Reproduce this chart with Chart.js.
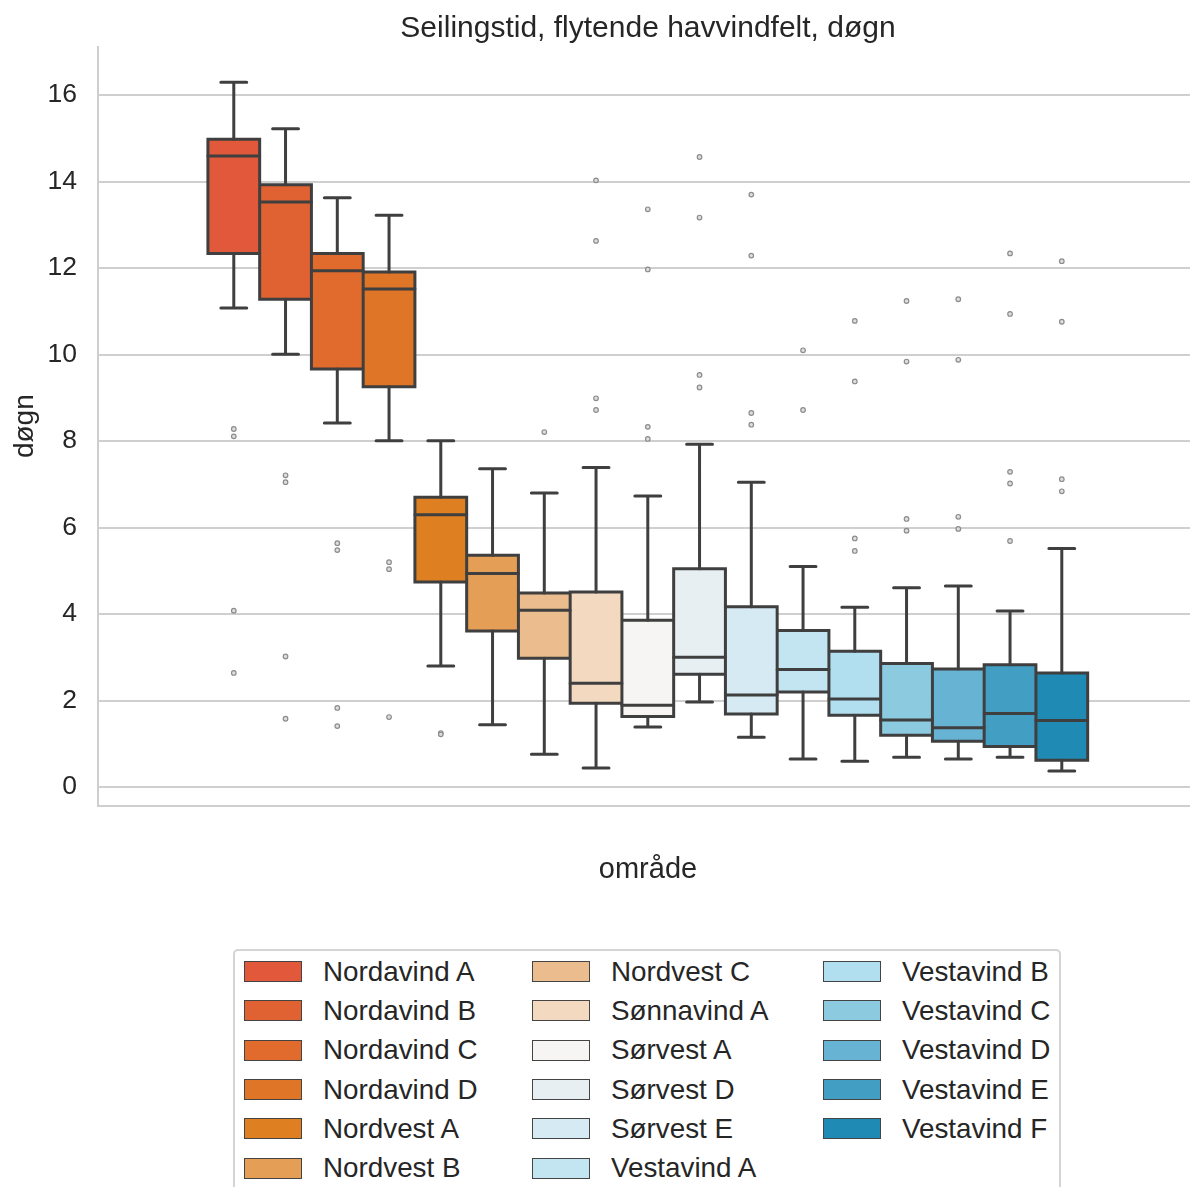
<!DOCTYPE html>
<html>
<head>
<meta charset="utf-8">
<script src="https://cdn.jsdelivr.net/npm/chart.js@4"></script>
<style>
  html, body { margin:0; padding:0; background:#fff; overflow:hidden; }
  body { width:1190px; height:1187px; position:relative; font-family:"Liberation Sans", Arial, sans-serif; }
  #wrap { position:absolute; left:0; top:0; width:1198px; height:910px; }
  #legend {
    position:absolute; left:233px; top:949px; width:828px; height:260px;
    border:2px solid #d4d4d4; border-radius:5px; box-sizing:border-box;
    display:grid; grid-auto-flow:column;
    grid-template-rows:repeat(6, 39.3px);
    grid-template-columns:288px 291px auto;
    padding:1px 0 0 9px;
  }
  .item { display:flex; align-items:center; }
  .patch { width:56px; height:19px; border:1px solid #444; margin-right:21px; flex:none; }
  .lbl { font-size:27.8px; color:#262626; white-space:nowrap; }
</style>
</head>
<body>
<div id="wrap"><canvas id="c"></canvas></div>
<div id="legend"></div>
<script>
// boxplot stats per område (døgn)
const categories = ['Nordavind A','Nordavind B','Nordavind C','Nordavind D','Nordvest A','Nordvest B','Nordvest C',
  'Sønnavind A','Sørvest A','Sørvest D','Sørvest E','Vestavind A','Vestavind B','Vestavind C','Vestavind D','Vestavind E','Vestavind F'];
const whiskerLow  = [11.08, 10.01, 8.42, 8.01, 2.80, 1.44, 0.76, 0.44, 1.39, 1.97, 1.15, 0.65, 0.60, 0.69, 0.65, 0.69, 0.37];
const q1          = [12.34, 11.28, 9.67, 9.26, 4.74, 3.61, 2.98, 1.94, 1.63, 2.61, 1.69, 2.20, 1.66, 1.20, 1.06, 0.94, 0.62];
const median      = [14.59, 13.53, 11.94, 11.52, 6.30, 4.94, 4.09, 2.40, 1.89, 3.00, 2.13, 2.72, 2.04, 1.55, 1.37, 1.70, 1.54];
const q3          = [14.98, 13.93, 12.34, 11.91, 6.70, 5.36, 4.49, 4.51, 3.86, 5.05, 4.17, 3.62, 3.14, 2.86, 2.73, 2.83, 2.64];
const whiskerHigh = [16.30, 15.22, 13.63, 13.22, 8.01, 7.36, 6.80, 7.39, 6.73, 7.93, 7.05, 5.10, 4.16, 4.61, 4.65, 4.07, 5.52];
const outliers = [
  [8.28, 8.11, 4.08, 2.64],
  [7.21, 7.05, 3.02, 1.58],
  [5.64, 5.48, 1.83, 1.41],
  [5.20, 5.04, 1.62],
  [1.25, 1.22],
  [],
  [8.21],
  [14.03, 12.63, 8.99, 8.72],
  [13.36, 11.97, 8.33, 8.05],
  [14.57, 13.17, 9.53, 9.24],
  [13.70, 12.29, 8.65, 8.38],
  [10.10, 8.72],
  [10.78, 9.38, 5.75, 5.46],
  [11.24, 9.84, 6.20, 5.93],
  [11.28, 9.88, 6.25, 5.97],
  [12.34, 10.94, 7.29, 7.02, 5.69],
  [12.16, 10.76, 7.12, 6.84]
];
const yTicks = [0, 2, 4, 6, 8, 10, 12, 14, 16];
const colors = ['#E2583A','#E06233','#E06B2D','#DF7526','#DE8022','#E59E55','#EBBC8D','#F2D9C0','#F6F5F3',
  '#E7EFF3','#D5EAF2','#C3E4F1','#B2DFEF','#8CCADF','#67B3D3','#429EC3','#1F8AB4'];

const gap = i => ({ x: i, y: null });

const boxFill = categories.map((c, i) => ({ x: i, y: [q1[i], q3[i]] }));
const boxEdge = categories.flatMap((c, i) => [
  { x: i - 0.5, y: q1[i] }, { x: i + 0.5, y: q1[i] }, { x: i + 0.5, y: q3[i] },
  { x: i - 0.5, y: q3[i] }, { x: i - 0.5, y: q1[i] }, gap(i)
]);
const whiskers = categories.flatMap((c, i) => [
  { x: i, y: q3[i] }, { x: i, y: whiskerHigh[i] }, gap(i),
  { x: i - 0.25, y: whiskerHigh[i] }, { x: i + 0.25, y: whiskerHigh[i] }, gap(i),
  { x: i, y: q1[i] }, { x: i, y: whiskerLow[i] }, gap(i),
  { x: i - 0.25, y: whiskerLow[i] }, { x: i + 0.25, y: whiskerLow[i] }, gap(i),
  { x: i - 0.5, y: median[i] }, { x: i + 0.5, y: median[i] }, gap(i)
]);
const fliers = outliers.flatMap((arr, i) => arr.map(v => ({ x: i, y: v })));

const ink = '#3f3f3f';
const gridCol = '#cfcfcf';
const font = '"Liberation Sans", Arial, sans-serif';

new Chart(document.getElementById('c'), {
  data: {
    datasets: [
      { type: 'bar', data: boxFill, backgroundColor: colors, borderWidth: 0,
        barPercentage: 1, categoryPercentage: 1, order: 4 },
      { type: 'scatter', data: fliers, pointRadius: 2.3, pointBorderWidth: 1.2,
        pointBorderColor: '#8c8c8c', pointBackgroundColor: '#dedede', order: 3 },
      { type: 'scatter', data: boxEdge, showLine: true, borderColor: ink, borderWidth: 3,
        borderCapStyle: 'square', borderJoinStyle: 'miter', pointRadius: 0, order: 2 },
      { type: 'scatter', data: whiskers, showLine: true, borderColor: ink, borderWidth: 3,
        borderCapStyle: 'round', pointRadius: 0, order: 1 }
    ]
  },
  options: {
    animation: false, responsive: true, maintainAspectRatio: false,
    layout: { padding: 0, autoPadding: false },
    plugins: {
      legend: { display: false },
      tooltip: { enabled: false },
      title: { display: true, fullSize: false, text: 'Seilingstid, flytende havvindfelt, døgn', color: '#262626',
        font: { family: font, size: 30, weight: 'normal' }, padding: { top: 10.5, bottom: 0.2 } }
    },
    scales: {
      x: {
        type: 'linear', offset: false, min: -2.624, max: 18.632,
        afterBuildTicks: s => { s.ticks = categories.map((c, i) => ({ value: i })); },
        afterFit: s => { s.height = 104.3; },
        ticks: { display: false },
        grid: { display: false, offset: false },
        border: { display: true, color: gridCol, width: 2 },
        title: { display: true, text: 'område', color: '#262626',
          font: { family: font, size: 29 }, padding: { top: 0, bottom: 22.6 } }
      },
      y: {
        min: -0.43, max: 17.12,
        afterBuildTicks: s => { s.ticks = yTicks.map(v => ({ value: v })); },
        afterFit: s => { s.width = 98; },
        ticks: { color: '#262626', padding: 21, font: { family: font, size: 26.5 } },
        grid: { color: gridCol, lineWidth: 2, drawTicks: false },
        border: { display: true, color: gridCol, width: 2 },
        title: { display: true, text: 'døgn', color: '#262626',
          font: { family: font, size: 28 }, padding: { top: 8.2, bottom: 0 } }
      }
    }
  }
});

const legend = document.getElementById('legend');
categories.forEach((name, i) => {
  const item = document.createElement('div');
  item.className = 'item';
  item.innerHTML = `<span class="patch" style="background:${colors[i]}"></span><span class="lbl">${name}</span>`;
  legend.appendChild(item);
});
</script>
</body>
</html>
